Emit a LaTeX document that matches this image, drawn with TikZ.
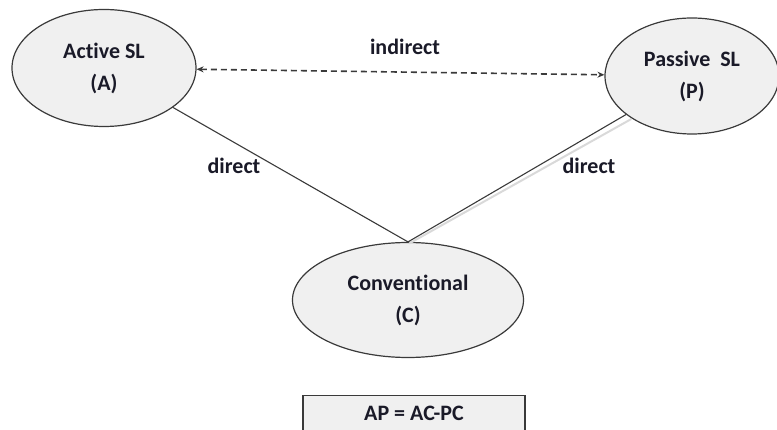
\documentclass[tikz,border=0pt]{standalone}
\usepackage{fontspec}
\setmainfont{Carlito}[Ligatures=NoCommon]
\usetikzlibrary{shapes.geometric,arrows.meta}
\definecolor{fillgray}{HTML}{F0F0F0}
\definecolor{edgegray}{HTML}{3A3A3A}
\definecolor{txt}{HTML}{1A1A28}
\begin{document}
\begin{tikzpicture}[x=1pt,y=-1pt,
  oval/.style={ellipse,draw=edgegray,line width=1.2pt,fill=fillgray,inner sep=0pt,
    align=center,font=\fontsize{22}{32}\selectfont\bfseries,text=txt},
  lbl/.style={font=\fontsize{22}{26}\selectfont\bfseries,text=txt,inner sep=0pt},
  conn/.style={draw=edgegray,line width=1.1pt}]
\useasboundingbox (0,0) rectangle (777,430);
\node[oval,minimum width=184pt,minimum height=117pt] (A) at (104,68) {Active SL\\(A)};
\node[oval,minimum width=174pt,minimum height=116pt] (P) at (692,76) {Passive\ \ SL\\(P)};
\node[oval,minimum width=231pt,minimum height=115pt] (C) at (408,300) {Conventional\\(C)};
\draw[conn,line width=1.6pt,dash pattern=on 6pt off 4pt,{Stealth[length=7pt,width=6pt]}-{Stealth[length=7pt,width=6pt]}] (A) -- (P);
\draw[draw=gray!30,line width=2pt] ([shift={(1.2,1.6)}]C.north) -- ([shift={(1.2,1.6)}]P.south west);
\draw[conn] (A) -- (C.north);
\draw[conn] (P) -- (C.north);
\node[lbl] (ind) at (405,47) {indirect};
\node[lbl] (d1) at (234,166) {direct};
\node[lbl] (d2) at (589,166) {direct};
\node[draw=edgegray,line width=1.2pt,fill=fillgray,minimum width=222pt,minimum height=50pt,anchor=north,inner sep=0pt] (box) at (414,395) {};
\node[lbl] (eq) at (414,413) {AP = AC-PC};
\end{tikzpicture}
\end{document}
